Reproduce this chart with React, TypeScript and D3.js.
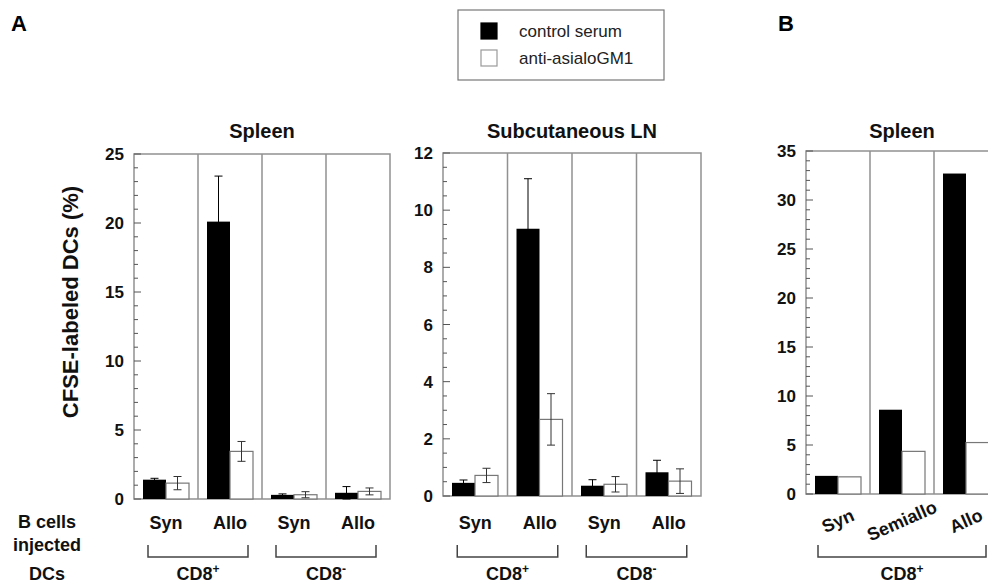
import * as d3 from "d3";
import React, { useEffect, useRef } from "react";

const FONT = "'Liberation Sans', Arial, Helvetica, sans-serif";

const series = ["control serum", "anti-asialoGM1"];

// A, spleen
const spleenGroups = ["Syn", "Allo", "Syn", "Allo"];
const spleenControl = [1.4, 20.1, 0.3, 0.45];
const spleenControlErr = [0.1, 3.3, 0.07, 0.45];
const spleenAnti = [1.15, 3.45, 0.31, 0.55];
const spleenAntiErr = [0.48, 0.72, 0.22, 0.25];
const spleenTicks = [0, 5, 10, 15, 20, 25];

// A, subcutaneous LN
const lnGroups = ["Syn", "Allo", "Syn", "Allo"];
const lnControl = [0.46, 9.35, 0.36, 0.83];
const lnControlErr = [0.1, 1.75, 0.21, 0.42];
const lnAnti = [0.72, 2.68, 0.41, 0.52];
const lnAntiErr = [0.25, 0.9, 0.27, 0.43];
const lnTicks = [0, 2, 4, 6, 8, 10, 12];

// B, spleen
const bGroups = ["Syn", "Semiallo", "Allo"];
const bControl = [1.85, 8.6, 32.7];
const bAnti = [1.75, 4.35, 5.25];
const bTicks = [0, 5, 10, 15, 20, 25, 30, 35];

const drawPanel = (svg, o) => {
  const n = o.groups.length;
  const x = d3.scaleBand().domain(d3.range(n)).range([o.left, o.left + o.gw * n]);
  const inner = d3.scaleBand().domain(series).range([9, 55]);
  const y = d3.scaleLinear().domain([0, o.max]).range([o.bottom, o.top]);
  const g = svg.append("g");
  const right = o.left + o.gw * n;

  // frame + dividers
  g.append("rect")
    .attr("x", o.left).attr("y", o.top)
    .attr("width", right - o.left).attr("height", o.bottom - o.top)
    .attr("fill", "none").attr("stroke", "#919191").attr("stroke-width", 1.5);
  d3.range(1, n).forEach(i => {
    g.append("line")
      .attr("x1", x(i)).attr("x2", x(i))
      .attr("y1", o.top).attr("y2", o.bottom)
      .attr("stroke", "#919191").attr("stroke-width", 1.5);
  });

  // ticks, pointing inward
  const ticks = d3.range(0, o.max + o.minor / 2, o.minor);
  ticks.forEach(v => {
    const major = o.ticks.some(t => Math.abs(t - v) < 1e-6);
    g.append("line")
      .attr("x1", o.left).attr("x2", o.left + (major ? 7 : 4))
      .attr("y1", y(v)).attr("y2", y(v))
      .attr("stroke", "#555").attr("stroke-width", 1);
  });
  o.ticks.forEach(t => {
    g.append("text")
      .attr("x", o.left - 10).attr("y", y(t)).attr("dy", "0.36em")
      .attr("text-anchor", "end")
      .style("font", `bold 17px ${FONT}`).attr("fill", "#111")
      .text(t);
  });

  // bars
  const vals = [o.control, o.anti];
  const errs = [o.controlErr, o.antiErr];
  series.forEach((s, si) => {
    vals[si].forEach((v, i) => {
      g.append("rect")
        .attr("x", x(i) + inner(s)).attr("y", y(v))
        .attr("width", inner.bandwidth()).attr("height", y(0) - y(v))
        .attr("fill", si === 0 ? "#000" : "#fff")
        .attr("stroke", si === 0 ? "#000" : "#777")
        .attr("stroke-width", si === 0 ? 0 : 1.2);
    });
  });
  series.forEach((s, si) => {
    if (!errs[si]) return;
    errs[si].forEach((e, i) => {
      const v = vals[si][i];
      const cx = x(i) + inner(s) + inner.bandwidth() / 2;
      const e2 = g.append("g").attr("stroke", si === 0 ? "#000" : "#333").attr("stroke-width", 1);
      e2.append("line").attr("x1", cx).attr("x2", cx).attr("y1", y(v - e)).attr("y2", y(v + e));
      [v - e, v + e].forEach(w => {
        e2.append("line").attr("x1", cx - 4).attr("x2", cx + 4).attr("y1", y(w)).attr("y2", y(w));
      });
    });
  });

  // title
  g.append("text")
    .attr("x", (o.left + right) / 2).attr("y", 138)
    .attr("text-anchor", "middle")
    .style("font", `bold 20px ${FONT}`).attr("fill", "#111")
    .text(o.title);

  // group labels
  o.groups.forEach((lab, i) => {
    const cx = x(i) + x.bandwidth() / 2;
    if (o.rotate) {
      g.append("text")
        .attr("transform", `translate(${cx},521) rotate(-24)`)
        .attr("text-anchor", "middle").attr("dominant-baseline", "central")
        .style("font", `bold 18px ${FONT}`).attr("fill", "#111")
        .text(lab);
    } else {
      g.append("text")
        .attr("x", cx).attr("y", 529)
        .attr("text-anchor", "middle")
        .style("font", `bold 18px ${FONT}`).attr("fill", "#111")
        .text(lab);
    }
  });

  // DC brackets
  o.brackets.forEach(b => {
    const x0 = x(b.from) + x.bandwidth() / 2 - o.ext;
    const x1 = x(b.to) + x.bandwidth() / 2 + o.ext;
    g.append("path")
      .attr("d", `M${x0},545V557H${x1}V545`)
      .attr("fill", "none").attr("stroke", "#444").attr("stroke-width", 1.5);
    const t = g.append("text")
      .attr("x", (x0 + x1) / 2).attr("y", 580)
      .attr("text-anchor", "middle")
      .style("font", `bold 18px ${FONT}`).attr("fill", "#111");
    t.append("tspan").text("CD8");
    t.append("tspan").attr("dy", -7).style("font-size", "12px").text(b.sup);
  });
};

export default function App() {
  const ref = useRef(null);

  useEffect(() => {
    const svg = d3.select(ref.current);
    svg.selectAll("*").remove();

    drawPanel(svg, {
      left: 134, top: 154, bottom: 499, gw: 64, max: 25, minor: 1,
      ticks: spleenTicks, groups: spleenGroups, title: "Spleen",
      control: spleenControl, controlErr: spleenControlErr,
      anti: spleenAnti, antiErr: spleenAntiErr, ext: 18,
      brackets: [{ from: 0, to: 1, sup: "+" }, { from: 2, to: 3, sup: "-" }]
    });
    drawPanel(svg, {
      left: 443, top: 153, bottom: 496, gw: 64.5, max: 12, minor: 0.5,
      ticks: lnTicks, groups: lnGroups, title: "Subcutaneous LN",
      control: lnControl, controlErr: lnControlErr,
      anti: lnAnti, antiErr: lnAntiErr, ext: 18,
      brackets: [{ from: 0, to: 1, sup: "+" }, { from: 2, to: 3, sup: "-" }]
    });
    drawPanel(svg, {
      left: 806, top: 151, bottom: 494, gw: 64, max: 35, minor: 1,
      ticks: bTicks, groups: bGroups, title: "Spleen", rotate: true,
      control: bControl, anti: bAnti, ext: 20,
      brackets: [{ from: 0, to: 2, sup: "+" }]
    });

    // legend
    const lg = svg.append("g");
    lg.append("rect")
      .attr("x", 458).attr("y", 10).attr("width", 206).attr("height", 70)
      .attr("fill", "none").attr("stroke", "#777").attr("stroke-width", 1.2);
    series.forEach((s, i) => {
      lg.append("rect")
        .attr("x", 481).attr("y", 23 + i * 27).attr("width", 16).attr("height", 16)
        .attr("fill", i === 0 ? "#000" : "#fff")
        .attr("stroke", i === 0 ? "#000" : "#999").attr("stroke-width", 1.2);
      lg.append("text")
        .attr("x", 519).attr("y", 37 + i * 27)
        .style("font", `17px ${FONT}`).attr("fill", "#222")
        .text(s);
    });

    // panel letters
    svg.append("text").attr("x", 11).attr("y", 31)
      .style("font", `bold 22px ${FONT}`).text("A");
    svg.append("text").attr("x", 778).attr("y", 31)
      .style("font", `bold 22px ${FONT}`).text("B");

    // y title
    svg.append("text")
      .attr("transform", "translate(78,302) rotate(-90)")
      .attr("text-anchor", "middle")
      .style("font", `bold 22px ${FONT}`).attr("fill", "#111")
      .text("CFSE-labeled DCs (%)");

    // row labels
    [["B cells", 528], ["injected", 551], ["DCs", 580]].forEach(([t, yy]) => {
      svg.append("text")
        .attr("x", 47).attr("y", yy).attr("text-anchor", "middle")
        .style("font", `bold 18px ${FONT}`).attr("fill", "#111")
        .text(t);
    });
  }, []);

  return (
    <svg ref={ref} width={988} height={584}
      style={{ position: "absolute", left: 0, top: 0, background: "#fff" }} />
  );
}
